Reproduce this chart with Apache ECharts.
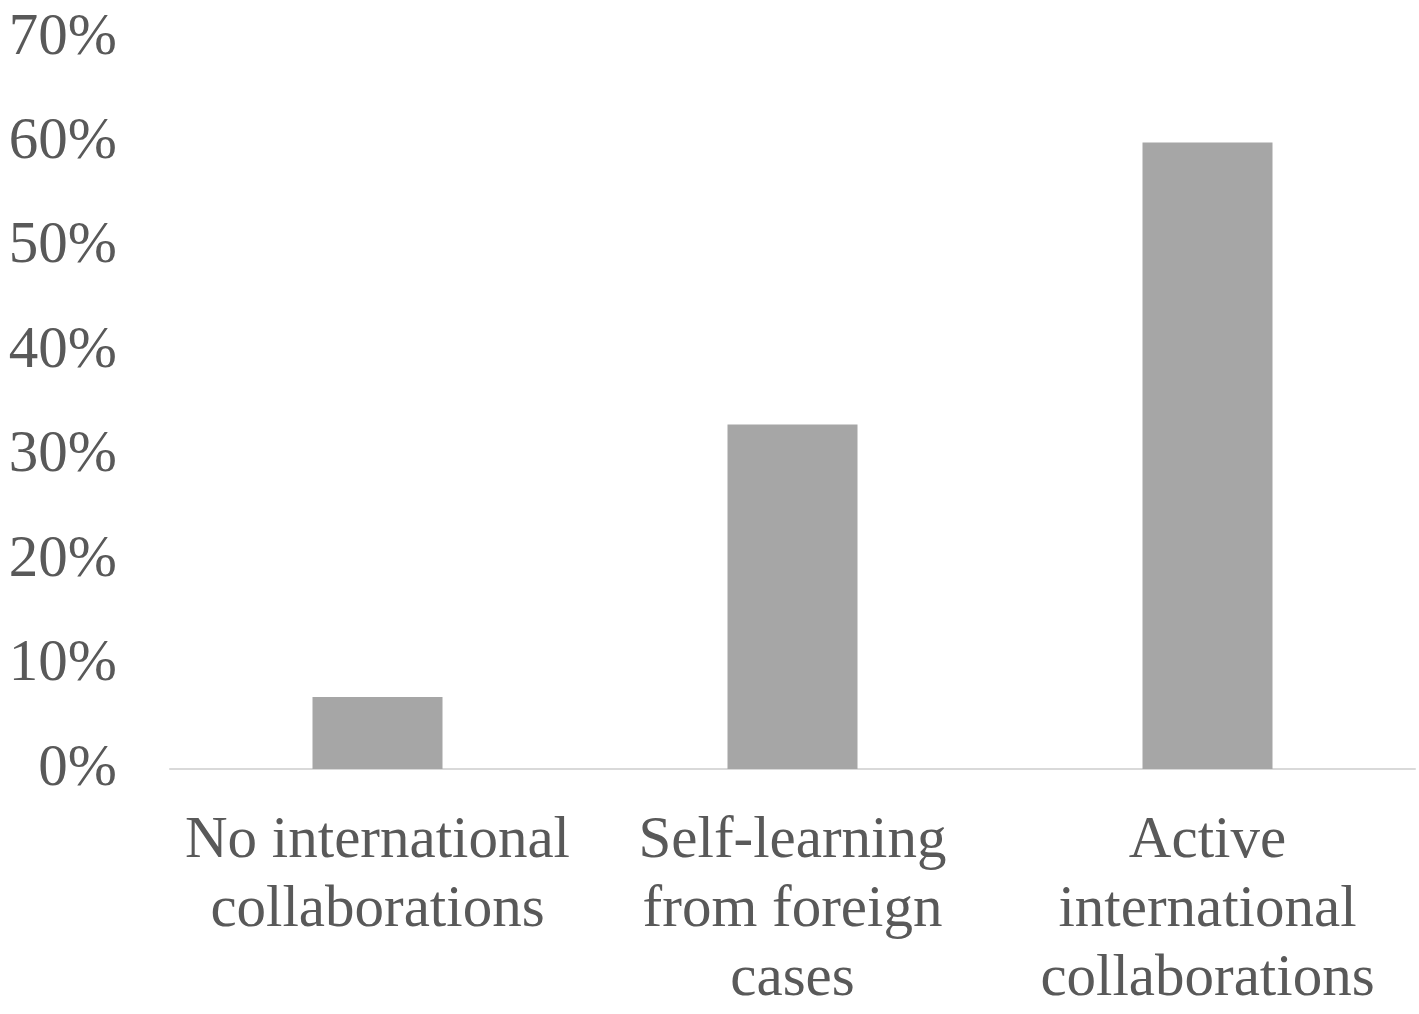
<!DOCTYPE html>
<html>
<head>
<meta charset="utf-8">
<script src="https://cdn.jsdelivr.net/npm/echarts@6/dist/echarts.min.js"></script>
<style>
html,body{margin:0;padding:0;background:#fff;}
#chart{width:1419px;height:1014px;}
</style>
</head>
<body>
<div id="chart"></div>
<script>
const categories = [
  "No international\ncollaborations",
  "Self-learning\nfrom foreign\ncases",
  "Active\ninternational\ncollaborations"
];
const values = [0.069, 0.33, 0.60];
const yMin = 0, yMax = 0.7, yInterval = 0.1;

const chart = echarts.init(document.getElementById('chart'), null, {renderer: 'canvas'});
chart.setOption({
  backgroundColor: '#ffffff',
  animation: false,
  grid: {left: 170, right: 4, top: 38, bottom: 245, containLabel: false},
  xAxis: {
    type: 'category',
    data: categories,
    axisLine: {show: true, lineStyle: {color: '#d9d9d9', width: 2}},
    axisTick: {show: false},
    axisLabel: {
      interval: 0,
      color: '#595959',
      fontFamily: 'Liberation Serif',
      fontSize: 59,
      lineHeight: 69,
      margin: 38
    }
  },
  yAxis: {
    type: 'value',
    min: yMin, max: yMax, interval: yInterval,
    axisLine: {show: false},
    axisTick: {show: false},
    splitLine: {show: false},
    axisLabel: {
      color: '#595959',
      fontFamily: 'Liberation Serif',
      fontSize: 59,
      margin: 53,
      formatter: v => Math.round(v * 100) + '%'
    }
  },
  series: [{
    type: 'bar',
    data: values,
    barWidth: 130,
    itemStyle: {color: '#a6a6a6'}
  }]
});
</script>
</body>
</html>
